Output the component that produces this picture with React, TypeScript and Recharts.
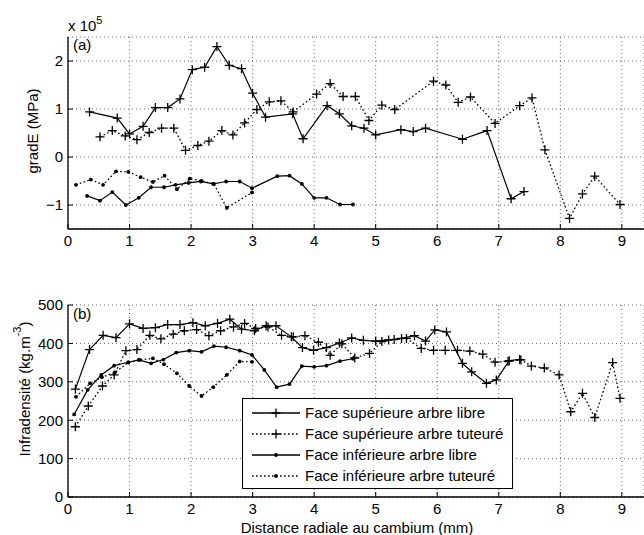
import React from 'react';
import { LineChart, Line, XAxis, YAxis, CartesianGrid, Legend, Label } from 'recharts';

const FONT = '"Liberation Sans", Arial, Helvetica, sans-serif';
const FS = 15;

const X_TICKS = [0, 1, 2, 3, 4, 5, 6, 7, 8, 9];
const X_MAX = 9.36; // the original axis is cut at the right edge
const GRAD_TICKS = [-1, 0, 1, 2];
const DENS_TICKS = [0, 100, 200, 300, 400, 500];

const SERIES_NAMES = [
  'Face supérieure arbre libre',
  'Face supérieure arbre tuteuré',
  'Face inférieure arbre libre',
  'Face inférieure arbre tuteuré',
];

// (a) gradE, in units of 1e5 MPa
const gradSupLibreX = [0.35, 0.8, 1.0, 1.22, 1.42, 1.62, 1.82, 2.02, 2.22, 2.42, 2.62, 2.82, 3.0, 3.21, 3.65, 3.82, 4.21, 4.41, 4.61, 4.81, 5.0, 5.41, 5.61, 5.81, 6.41, 6.81, 7.2, 7.41];
const gradSupLibreY = [0.94, 0.81, 0.48, 0.64, 1.03, 1.03, 1.21, 1.82, 1.87, 2.3, 1.91, 1.84, 1.33, 0.83, 0.9, 0.38, 1.07, 0.9, 0.65, 0.6, 0.46, 0.57, 0.53, 0.6, 0.37, 0.55, -0.87, -0.72];

const gradSupTutX = [0.52, 0.72, 0.93, 1.12, 1.32, 1.52, 1.72, 1.91, 2.11, 2.29, 2.5, 2.68, 2.87, 3.07, 3.27, 3.46, 3.66, 4.04, 4.26, 4.47, 4.67, 4.89, 5.1, 5.31, 5.94, 6.14, 6.34, 6.54, 6.94, 7.34, 7.54, 7.75, 8.15, 8.36, 8.56, 8.97];
const gradSupTutY = [0.42, 0.55, 0.44, 0.36, 0.51, 0.6, 0.6, 0.14, 0.24, 0.33, 0.55, 0.46, 0.71, 0.99, 1.15, 1.17, 0.94, 1.31, 1.53, 1.26, 1.26, 0.76, 1.08, 0.99, 1.58, 1.5, 1.14, 1.25, 0.7, 1.07, 1.23, 0.15, -1.28, -0.77, -0.4, -0.99];

const gradInfLibreX = [0.31, 0.52, 0.72, 0.94, 1.15, 1.35, 1.56, 1.75, 1.96, 2.16, 2.36, 2.57, 2.79, 2.99, 3.4, 3.6, 3.8, 4.0, 4.2, 4.42, 4.63];
const gradInfLibreY = [-0.81, -0.91, -0.73, -1.0, -0.85, -0.63, -0.63, -0.58, -0.54, -0.51, -0.56, -0.51, -0.51, -0.65, -0.4, -0.39, -0.56, -0.85, -0.85, -0.99, -0.99];

const gradInfTutX = [0.13, 0.37, 0.57, 0.78, 0.98, 1.18, 1.38, 1.57, 1.77, 1.98, 2.17, 2.37, 2.58, 2.99];
const gradInfTutY = [-0.58, -0.47, -0.58, -0.3, -0.31, -0.42, -0.52, -0.39, -0.67, -0.45, -0.5, -0.56, -1.06, -0.74];

// (b) infradensité, kg.m-3
const densSupLibreX = [0.12, 0.35, 0.57, 0.78, 1.0, 1.22, 1.42, 1.62, 1.82, 2.03, 2.23, 2.43, 2.63, 2.82, 3.03, 3.22, 3.38, 3.63, 3.81, 3.99, 4.2, 4.41, 4.61, 4.8, 5.0, 5.21, 5.42, 5.63, 5.81, 5.96, 6.15, 6.41, 6.56, 6.8, 6.96, 7.17, 7.34];
const densSupLibreY = [281, 384, 421, 415, 451, 439, 441, 449, 449, 454, 446, 452, 463, 437, 433, 446, 446, 417, 389, 382, 389, 401, 414, 408, 406, 409, 413, 420, 406, 435, 430, 348, 326, 296, 305, 355, 358];

const densSupTutX = [0.12, 0.33, 0.56, 0.75, 0.94, 1.12, 1.33, 1.51, 1.71, 1.89, 2.09, 2.29, 2.48, 2.69, 2.87, 3.05, 3.25, 3.47, 3.66, 3.85, 4.07, 4.26, 4.45, 4.66, 4.9, 5.1, 5.3, 5.5, 5.74, 5.94, 6.13, 6.33, 6.53, 6.74, 6.94, 7.15, 7.36, 7.53, 7.74, 7.98, 8.17, 8.36, 8.56, 8.85, 8.97];
const densSupTutY = [183, 237, 289, 318, 381, 384, 421, 412, 424, 433, 436, 420, 433, 443, 452, 439, 443, 421, 417, 420, 403, 369, 399, 362, 374, 405, 410, 413, 387, 382, 382, 382, 380, 372, 351, 353, 357, 341, 336, 318, 222, 270, 207, 350, 257];

const densInfLibreX = [0.1, 0.32, 0.54, 0.75, 0.98, 1.15, 1.35, 1.55, 1.76, 1.97, 2.17, 2.37, 2.57, 2.79, 2.99, 3.19, 3.39, 3.6, 3.8, 4.0, 4.2, 4.42, 4.63];
const densInfLibreY = [215, 279, 318, 342, 351, 357, 348, 358, 376, 381, 378, 393, 390, 381, 370, 331, 286, 294, 341, 339, 342, 354, 360];

const densInfTutX = [0.13, 0.36, 0.55, 0.76, 0.98, 1.17, 1.38, 1.56, 1.77, 1.97, 2.17, 2.36, 2.58, 2.79, 2.99];
const densInfTutY = [261, 296, 312, 324, 350, 357, 361, 346, 322, 289, 263, 286, 318, 353, 352];

const zip = (xs: number[], ys: number[]) => xs.map((x, i) => ({ x, y: ys[i] }));

const DOTTED = '1.6 2.4';

const PlusDot = (p: any) => {
  if (p.cx == null || p.cy == null) return <g key={`e${p.index}`} />;
  return (
    <path
      key={`p${p.index}`}
      d={`M${p.cx - 4.5},${p.cy}h9M${p.cx},${p.cy - 4.5}v9`}
      stroke="#000"
      strokeWidth={1.3}
      fill="none"
    />
  );
};

const SmallDot = (p: any) => {
  if (p.cx == null || p.cy == null) return <g key={`e${p.index}`} />;
  return <circle key={`d${p.index}`} cx={p.cx} cy={p.cy} r={1.9} fill="#000" stroke="none" />;
};

const tickStyle = { fill: '#000', fontSize: FS, fontFamily: FONT };

function series(data: any[], idx: number) {
  const dashed = idx % 2 === 1;
  const plus = idx < 2;
  return (
    <Line
      key={idx}
      name={SERIES_NAMES[idx]}
      data={data}
      dataKey="y"
      type="linear"
      stroke="#000"
      strokeWidth={dashed ? 1.3 : 1.2}
      strokeDasharray={dashed ? DOTTED : undefined}
      dot={plus ? PlusDot : SmallDot}
      activeDot={false}
      isAnimationActive={false}
    />
  );
}

function LegendBox() {
  return (
    <div
      style={{
        width: 271,
        height: 91,
        boxSizing: 'border-box',
        border: '1px solid #000',
        background: '#fff',
        fontFamily: FONT,
        fontSize: FS,
        color: '#000',
        paddingTop: 3,
      }}
    >
      {SERIES_NAMES.map((name, i) => (
        <div key={name} style={{ display: 'flex', alignItems: 'center', height: 21 }}>
          <svg width={62} height={14} style={{ flex: 'none' }}>
            <line
              x1={9}
              x2={57}
              y1={7}
              y2={7}
              stroke="#000"
              strokeWidth={1.3}
              strokeDasharray={i % 2 === 1 ? DOTTED : undefined}
            />
            {i < 2 ? (
              <path d="M28.5,7h9M33,2.5v9" stroke="#000" strokeWidth={1.3} />
            ) : (
              <circle cx={33} cy={7} r={1.9} fill="#000" />
            )}
          </svg>
          <span style={{ whiteSpace: 'nowrap' }}>{name}</span>
        </div>
      ))}
    </div>
  );
}

export default function App() {
  const gradData = [
    zip(gradSupLibreX, gradSupLibreY),
    zip(gradSupTutX, gradSupTutY),
    zip(gradInfLibreX, gradInfLibreY),
    zip(gradInfTutX, gradInfTutY),
  ];
  const densData = [
    zip(densSupLibreX, densSupLibreY),
    zip(densSupTutX, densSupTutY),
    zip(densInfLibreX, densInfLibreY),
    zip(densInfTutX, densInfTutY),
  ];

  return (
    <div style={{ position: 'relative', width: 644, height: 535, background: '#fff', fontFamily: FONT, overflow: 'hidden' }}>
      <style>{'body{margin:0}'}</style>

      {/* (a) gradE */}
      <div style={{ position: 'absolute', left: 0, top: 0 }}>
        <LineChart width={644} height={250} margin={{ top: 37, right: 0, bottom: 1, left: 8 }}>
          <CartesianGrid stroke="#555" strokeDasharray="1 3" strokeWidth={0.9} />
          <XAxis
            type="number"
            dataKey="x"
            domain={[0, X_MAX]}
            ticks={X_TICKS}
            allowDataOverflow
            height={20}
            tickSize={-5}
            tickMargin={11}
            tick={tickStyle}
            stroke="#000"
            axisLine={{ stroke: '#000', strokeWidth: 1.3 }}
          />
          <XAxis
            xAxisId="top"
            orientation="top"
            type="number"
            dataKey="x"
            domain={[0, X_MAX]}
            ticks={X_TICKS}
            allowDataOverflow
            height={0}
            tickSize={-5}
            tick={false}
            stroke="#000"
            axisLine={{ stroke: '#000', strokeWidth: 1.3 }}
          />
          <YAxis
            type="number"
            domain={[-1.5, 2.5]}
            ticks={GRAD_TICKS}
            allowDataOverflow
            width={60}
            tickSize={-5}
            tickMargin={10}
            tick={tickStyle}
            tickFormatter={(v: number) => (v < 0 ? `\u2212${-v}` : `${v}`)}
            stroke="#000"
            axisLine={{ stroke: '#000', strokeWidth: 1.3 }}
          >
            <Label
              content={() => (
                <text
                  x={32}
                  y={131}
                  transform="rotate(-90 32 131)"
                  textAnchor="middle"
                  dominantBaseline="central"
                  fontSize={FS}
                  fontFamily={FONT}
                  fill="#000"
                >
                  gradE (MPa)
                </text>
              )}
            />
          </YAxis>
          {gradData.map((d, i) => series(d, i))}
        </LineChart>
      </div>

      {/* (b) infradensité */}
      <div style={{ position: 'absolute', left: 0, top: 255 }}>
        <LineChart width={644} height={280} margin={{ top: 50, right: 0, bottom: 18, left: 8 }}>
          <CartesianGrid stroke="#555" strokeDasharray="1 3" strokeWidth={0.9} />
          <XAxis
            type="number"
            dataKey="x"
            domain={[0, X_MAX]}
            ticks={X_TICKS}
            allowDataOverflow
            height={20}
            tickSize={-5}
            tickMargin={11}
            tick={tickStyle}
            stroke="#000"
            axisLine={{ stroke: '#000', strokeWidth: 1.3 }}
          >
            <Label
              content={() => (
                <text x={357} y={278} textAnchor="middle" fontSize={FS} fontFamily={FONT} fill="#000">
                  Distance radiale au cambium (mm)
                </text>
              )}
            />
          </XAxis>
          <XAxis
            xAxisId="top"
            orientation="top"
            type="number"
            dataKey="x"
            domain={[0, X_MAX]}
            ticks={X_TICKS}
            allowDataOverflow
            height={0}
            tickSize={-5}
            tick={false}
            stroke="#000"
            axisLine={{ stroke: '#000', strokeWidth: 1.3 }}
          />
          <YAxis
            type="number"
            domain={[0, 500]}
            ticks={DENS_TICKS}
            allowDataOverflow
            width={60}
            tickSize={-5}
            tickMargin={10}
            tick={tickStyle}
            stroke="#000"
            axisLine={{ stroke: '#000', strokeWidth: 1.3 }}
          >
            <Label
              content={() => (
                <text
                  x={24}
                  y={134}
                  transform="rotate(-90 24 134)"
                  textAnchor="middle"
                  dominantBaseline="central"
                  fontSize={FS}
                  fontFamily={FONT}
                  fill="#000"
                >
                  Infradensité (kg.m
                  <tspan fontSize={11} dy={-7}>-3</tspan>
                  <tspan dy={7}>)</tspan>
                </text>
              )}
            />
          </YAxis>
          <Legend
            layout="vertical"
            align="center"
            verticalAlign="middle"
            content={() => <LegendBox />}
            wrapperStyle={{ left: 242, top: 143, width: 271, height: 91 }}
          />
          {densData.map((d, i) => series(d, i))}
        </LineChart>
      </div>

      {/* panel annotations */}
      <svg width={644} height={535} style={{ position: 'absolute', left: 0, top: 0, pointerEvents: 'none' }}>
        <text x={68} y={31} fontSize={FS} fontFamily={FONT} fill="#000">
          x 10
          <tspan fontSize={11} dy={-7}>5</tspan>
        </text>
        <text x={73} y={50} fontSize={FS} fontFamily={FONT} fill="#000">(a)</text>
        <text x={73} y={319} fontSize={FS} fontFamily={FONT} fill="#000">(b)</text>
      </svg>
    </div>
  );
}
